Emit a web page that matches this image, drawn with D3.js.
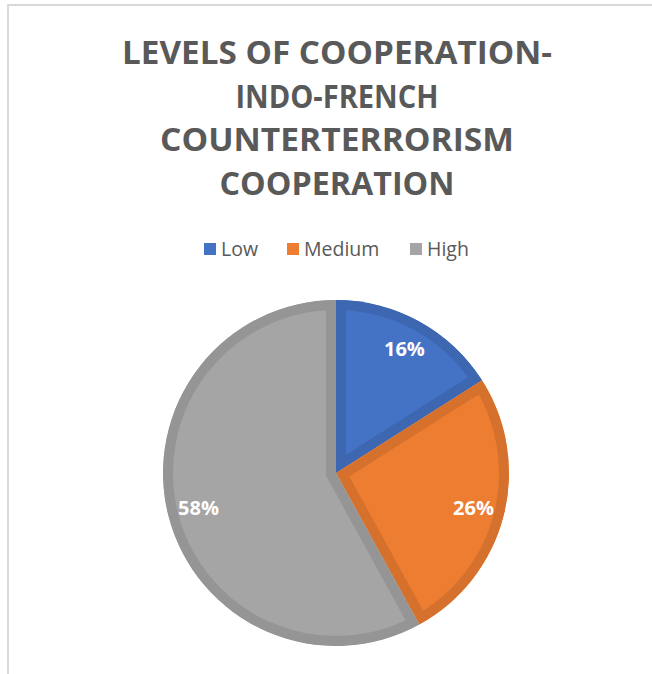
<!DOCTYPE html>
<html>
<head>
<meta charset="utf-8">
<script src="https://cdn.jsdelivr.net/npm/d3@7.9.0/dist/d3.min.js"></script>
<style>
  body { margin: 0; background: #fff; }
  svg { display: block; }
</style>
</head>
<body>
<svg id="chart" width="652" height="674"></svg>
<script>
// data
const titleLines = ['LEVELS OF COOPERATION-', 'INDO-FRENCH', 'COUNTERTERRORISM', 'COOPERATION'];
const categories = ['Low', 'Medium', 'High'];
const shares = [16, 26, 58];
const fills = ['#4472C4', '#ED7D31', '#A5A5A5'];
const edges = ['#3D67B1', '#D5712C', '#959595'];

const svg = d3.select('#chart');
const font = "'Open Sans', 'Noto Sans', sans-serif";

//chart frame
svg.append('rect')
    .attr('x', 8).attr('y', 5)
    .attr('width', 700).attr('height', 700)
    .attr('fill', 'none')
    .attr('stroke', '#d9d9d9')
    .attr('stroke-width', 2);

//title
const titleWidths = [430, 203, 354, 235];
svg.append('g').selectAll('text')
    .data(titleLines)
    .join('text')
    .attr('x', 337)
    .attr('y', (d, i) => 64 + i * 43.6)
    .attr('text-anchor', 'middle')
    .attr('font-family', font)
    .attr('font-weight', 700)
    .attr('font-size', 33)
    .attr('fill', '#595959')
    .attr('textLength', (d, i) => titleWidths[i])
    .attr('lengthAdjust', 'spacingAndGlyphs')
    .text(d => d);

//legend
const legendX = [204, 287, 410];
const legend = svg.append('g');
categories.forEach((c, i) => {
    const g = legend.append('g').attr('transform', `translate(${legendX[i]},243)`);
    g.append('rect').attr('width', 12).attr('height', 12).attr('fill', fills[i]);
    g.append('text')
        .attr('x', 17).attr('y', 13)
        .attr('font-family', font)
        .attr('font-size', 19.5)
        .attr('fill', '#595959')
        .text(c);
});

//pie
const cx = 336, cy = 473, R = 173;
const pie = d3.pie().sort(null).value(d => d);
const arc = d3.arc().innerRadius(0).outerRadius(R);
const labelArc = d3.arc().innerRadius(142).outerRadius(142);
const arcs = pie(shares);

const defs = svg.append('defs');
const pieG = svg.append('g').attr('transform', `translate(${cx},${cy})`);

arcs.forEach((d, i) => {
    defs.append('clipPath').attr('id', 'clip' + i)
        .append('path').attr('d', arc(d));
    pieG.append('path')
        .attr('d', arc(d))
        .attr('fill', fills[i])
        .attr('stroke', edges[i])
        .attr('stroke-width', 20)
        .attr('stroke-linejoin', 'miter')
        .attr('clip-path', `url(#clip${i})`);
});

pieG.selectAll('text.pct')
    .data(arcs)
    .join('text')
    .attr('class', 'pct')
    .attr('transform', d => `translate(${labelArc.centroid(d)})`)
    .attr('text-anchor', 'middle')
    .attr('dy', '0.35em')
    .attr('font-family', font)
    .attr('font-weight', 700)
    .attr('font-size', 20)
    .attr('fill', '#fff')
    .text(d => d.data + '%');
</script>
</body>
</html>
